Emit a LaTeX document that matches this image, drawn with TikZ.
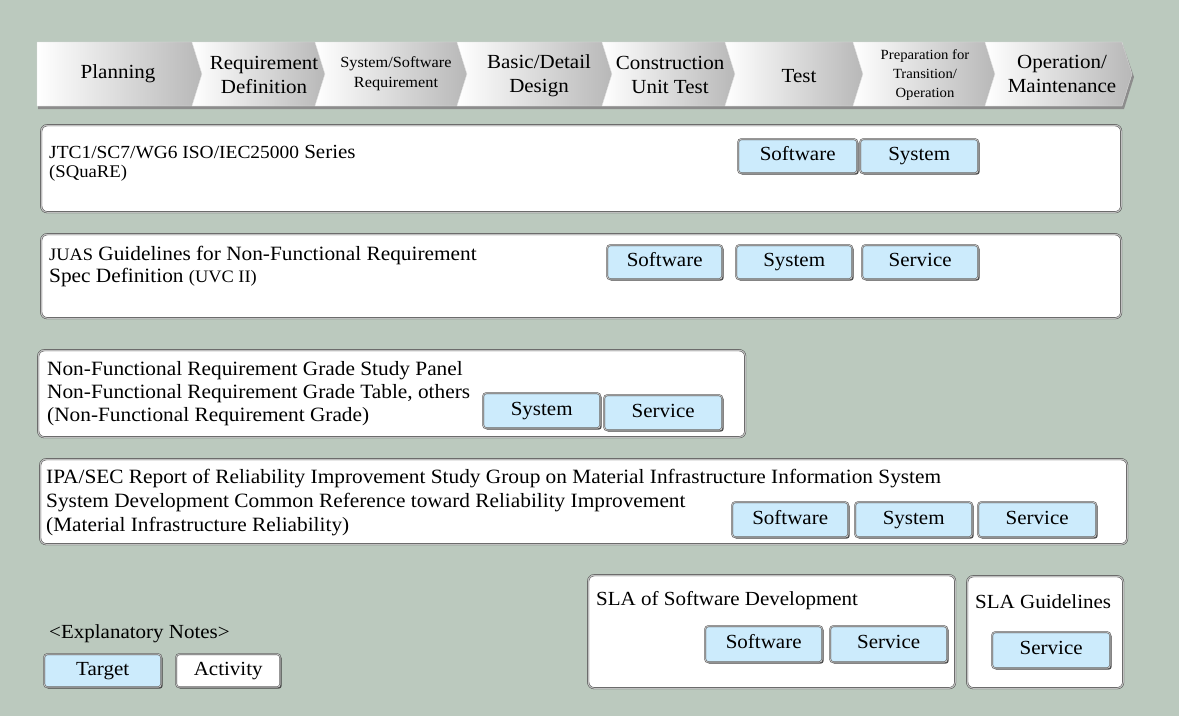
\documentclass[tikz,border=0pt]{standalone}
\usepackage{fontspec}
\setmainfont[FakeStretch=1.05]{Liberation Serif}
\usetikzlibrary{shadows}
\definecolor{bg}{HTML}{BBC9BE}
\definecolor{tblue}{HTML}{CCEBFC}
\tikzset{
  chev/.style={left color=white, right color=black!28, draw=black!12, line width=0.3pt},
  chevtext/.style={align=center, font=\fontsize{20}{24}\selectfont, inner sep=0pt},
  chevsmall/.style={align=center, font=\fontsize{15.5}{20}\selectfont, inner sep=0pt},
  chevtiny/.style={align=center, font=\fontsize{14}{19}\selectfont, inner sep=0pt},
  bigbox/.style={draw=black!75, double=black!25, double distance=1.2pt, fill=white,
    rounded corners=6pt, inner sep=0pt, anchor=north west},
  btn/.style={draw=black!75, double=black!25, double distance=1pt, fill=tblue,
    rounded corners=3pt, anchor=north west, inner sep=0pt,
    text height=13.5pt, text depth=4pt,
    font=\fontsize{20}{24}\selectfont,
    drop shadow={shadow xshift=1.5pt, shadow yshift=-1.5pt, fill=black!75, opacity=0.9}},
  boxtext/.style={anchor=west, align=left, inner sep=0pt, font=\fontsize{20.3}{24}\selectfont},
}
\newcommand\smallpart[1]{{\fontsize{17.5}{20}\selectfont #1}}
\begin{document}
\begin{tikzpicture}[x=1pt, y=-1pt]
\useasboundingbox (0,0) rectangle (1179,716);
\fill[bg] (0,0) rectangle (1179,716);
% chevron bar shadow
\fill[black!45] (38,45) -- (1123,45) -- (1134,77) -- (1124,109) -- (38,109) -- cycle;
% chevrons
\path[chev] (37,42) -- (192,42) -- (202,74) -- (192,106) -- (37,106) -- cycle;
\foreach \l/\r in {202/325, 325/467, 467/612, 612/735, 735/863, 863/995, 995/1132}{
  \path[chev] (\l-10,42) -- (\r-10,42) -- (\r,74) -- (\r-10,106) -- (\l-10,106) -- (\l,74) -- cycle;
}
\node[chevtext] (p1) at (118,74) {Planning};
\node[chevtext] (p2) at (264,75) {Requirement\\Definition};
\node[chevsmall] (p3) at (396,74) {System/Software\\Requirement};
\node[chevtext] (p4) at (539,76) {Basic/Detail\\Design};
\node[chevtext] (p5) at (670,75) {Construction\\Unit Test};
\node[chevtext] (p6) at (799,76) {Test};
\node[chevtiny] (p7) at (925,75) {Preparation for\\Transition/\\Operation};
\node[chevtext] (p8) at (1062,74) {Operation/\\Maintenance};

% Box 1
\node[bigbox, minimum width=1080pt, minimum height=87pt] (box1) at (41,125) {};
\node[boxtext, font=\fontsize{20}{24}\selectfont] (t1a) at (49,152) {{\fontsize{18.5}{20}\selectfont JTC1/SC7/WG6 ISO/IEC25000} Series};
\node[boxtext, font=\fontsize{17.8}{20}\selectfont] (t1b) at (49,173) {(SQuaRE)};
\node[btn, minimum width=119pt, minimum height=34pt] (b1a) at (738,139) {Software};
\node[btn, minimum width=118pt, minimum height=34pt] (b1b) at (860,139) {System};

% Box 2
\node[bigbox, minimum width=1080pt, minimum height=84pt] (box2) at (41,234) {};
\node[boxtext] (t2a) at (49,256) {\smallpart{JUAS} Guidelines for Non-Functional Requirement};
\node[boxtext] (t2b) at (49,278) {Spec Definition \smallpart{(UVC II)}};
\node[btn, minimum width=115pt, minimum height=34pt] (b2a) at (607,245) {Software};
\node[btn, minimum width=116pt, minimum height=34pt] (b2b) at (736,245) {System};
\node[btn, minimum width=116pt, minimum height=34pt] (b2c) at (862,245) {Service};

% Box 3
\node[bigbox, minimum width=707pt, minimum height=87pt] (box3) at (38,350) {};
\node[boxtext] (t3a) at (47,371) {Non-Functional Requirement Grade Study Panel};
\node[boxtext] (t3b) at (47,394) {Non-Functional Requirement Grade Table, others};
\node[boxtext] (t3c) at (47,417) {(Non-Functional Requirement Grade)};
\node[btn, minimum width=117pt, minimum height=35pt] (b3a) at (483,393) {System};
\node[btn, minimum width=118pt, minimum height=35pt] (b3b) at (604,395) {Service};

% Box 4
\node[bigbox, minimum width=1087pt, minimum height=85pt] (box4) at (40,459) {};
\node[boxtext] (t4a) at (46,479) {IPA/SEC Report of Reliability Improvement Study Group on Material Infrastructure Information System};
\node[boxtext] (t4b) at (46,503) {System Development Common Reference toward Reliability Improvement};
\node[boxtext] (t4c) at (46,527) {(Material Infrastructure Reliability)};
\node[btn, minimum width=116pt, minimum height=35pt] (b4a) at (732,502) {Software};
\node[btn, minimum width=117pt, minimum height=35pt] (b4b) at (855,502) {System};
\node[btn, minimum width=118pt, minimum height=35pt] (b4c) at (978,502) {Service};

% Box 5
\node[bigbox, minimum width=367pt, minimum height=113pt] (box5) at (588,575) {};
\node[boxtext, font=\fontsize{20}{24}\selectfont] (t5) at (596,601) {SLA of Software Development};
\node[btn, minimum width=117pt, minimum height=36pt] (b5a) at (705,626) {Software};
\node[btn, minimum width=117pt, minimum height=36pt] (b5b) at (830,626) {Service};

% Box 6
\node[bigbox, minimum width=156pt, minimum height=112pt] (box6) at (967,576) {};
\node[boxtext, font=\fontsize{20}{24}\selectfont] (t6) at (975,602) {SLA Guidelines};
\node[btn, minimum width=118pt, minimum height=36pt] (b6a) at (992,632) {Service};

% Notes
\node[boxtext, font=\fontsize{20}{24}\selectfont] (notes) at (49,634) {<Explanatory Notes>};
\node[btn, minimum width=117pt, minimum height=33pt] (lt) at (44,654) {Target};
\node[btn, fill=white, minimum width=104pt, minimum height=33pt] (la) at (176,654) {Activity};
\end{tikzpicture}
\end{document}
